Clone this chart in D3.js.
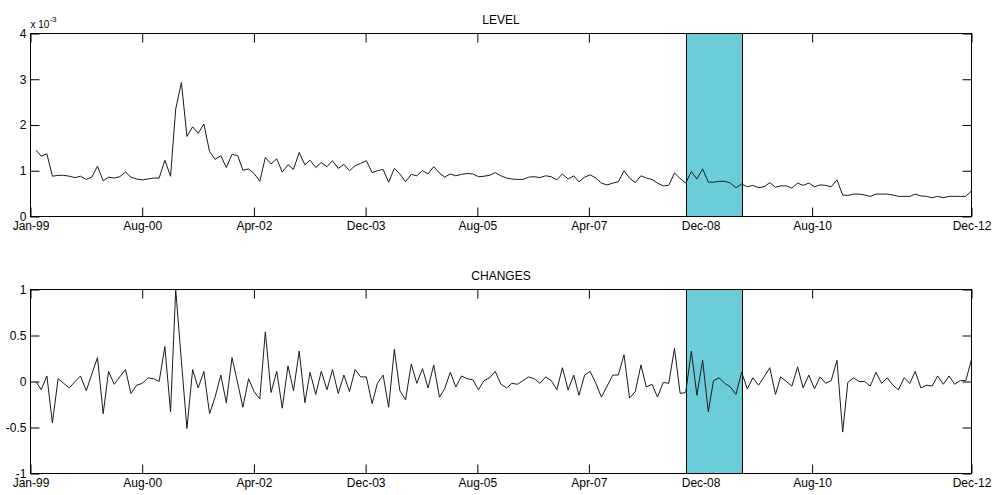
<!DOCTYPE html>
<html>
<head>
<meta charset="utf-8">
<script src="https://cdn.jsdelivr.net/npm/d3@7"></script>
<style>
  body { margin: 0; background: #fff; }
  text { font-family: Arial, "Liberation Sans", sans-serif; fill: #000; }
</style>
</head>
<body>
<svg id="chart" width="995" height="495"></svg>
<script>
// monthly series, Jan-99 .. Dec-12, plotted at month end
const firstMonth = new Date(1999, 0, 1);

// LEVEL, in units of 1e-3
const levelValues = [
  1.45, 1.32, 1.37, 0.88, 0.90, 0.90, 0.88, 0.85, 0.88, 0.81, 0.86, 1.10,
  0.78, 0.86, 0.84, 0.87, 0.97, 0.86, 0.82, 0.80, 0.82, 0.84, 0.84, 1.23,
  0.88, 2.35, 2.93, 1.75, 1.96, 1.82, 2.02, 1.42, 1.25, 1.33, 1.07, 1.36,
  1.33, 1.01, 1.04, 0.94, 0.77, 1.29, 1.15, 1.26, 0.97, 1.13, 1.03, 1.40,
  1.13, 1.23, 1.07, 1.18, 1.09, 1.22, 1.05, 1.14, 1.00, 1.11, 1.16, 1.22,
  0.96, 1.00, 1.03, 0.75, 1.05, 0.93, 0.76, 0.92, 0.89, 1.00, 0.93, 1.09,
  0.95, 0.86, 0.93, 0.89, 0.92, 0.94, 0.93, 0.87, 0.88, 0.90, 0.96, 0.89,
  0.84, 0.82, 0.81, 0.81, 0.86, 0.87, 0.85, 0.89, 0.87, 0.80, 0.93, 0.82,
  0.89, 0.76, 0.86, 0.91, 0.84, 0.73, 0.69, 0.73, 0.76, 1.00, 0.84, 0.74,
  0.89, 0.84, 0.81, 0.73, 0.67, 0.68, 0.95, 0.83, 0.73, 0.98, 0.82, 1.04,
  0.75, 0.75, 0.77, 0.77, 0.73, 0.63, 0.71, 0.65, 0.68, 0.63, 0.65, 0.74,
  0.64, 0.67, 0.67, 0.62, 0.73, 0.68, 0.73, 0.65, 0.69, 0.68, 0.65, 0.80,
  0.47, 0.46, 0.49, 0.49, 0.47, 0.44, 0.49, 0.49, 0.49, 0.47, 0.44, 0.44,
  0.44, 0.49, 0.45, 0.44, 0.41, 0.44, 0.41, 0.44, 0.44, 0.44, 0.44, 0.56
];

// CHANGES
const changeValues = [
  0.00, -0.09, 0.06, -0.45, 0.03, -0.02, -0.07, 0.00, 0.06, -0.10, 0.08, 0.26,
  -0.35, 0.11, -0.03, 0.05, 0.13, -0.13, -0.04, -0.02, 0.04, 0.03, 0.00, 0.38,
  -0.33, 1.00, 0.22, -0.51, 0.13, -0.07, 0.11, -0.35, -0.17, 0.07, -0.23, 0.26,
  -0.02, -0.28, 0.03, -0.11, -0.19, 0.54, -0.12, 0.11, -0.29, 0.17, -0.10, 0.33,
  -0.23, 0.10, -0.14, 0.11, -0.09, 0.13, -0.13, 0.07, -0.11, 0.13, 0.05, 0.05,
  -0.24, -0.02, 0.07, -0.28, 0.35, -0.10, -0.20, 0.19, -0.02, 0.14, -0.07, 0.18,
  -0.17, -0.08, 0.10, -0.06, 0.06, 0.03, 0.02, -0.09, 0.01, 0.04, 0.11, -0.03,
  -0.07, -0.02, -0.03, 0.01, 0.05, 0.03, -0.02, 0.05, 0.01, -0.09, 0.15, -0.09,
  0.07, -0.15, 0.07, 0.11, -0.02, -0.17, -0.05, 0.07, 0.07, 0.29, -0.18, -0.11,
  0.18, -0.06, -0.03, -0.17, -0.01, -0.02, 0.36, -0.13, -0.12, 0.33, -0.15, 0.23,
  -0.33, 0.01, 0.04, -0.02, -0.06, -0.14, 0.10, -0.08, 0.04, -0.04, 0.05, 0.15,
  -0.14, 0.05, 0.00, -0.05, 0.16, -0.07, 0.07, -0.08, 0.05, -0.02, 0.01, 0.23,
  -0.55, -0.01, 0.04, 0.00, 0.00, -0.05, 0.10, -0.02, 0.04, -0.04, -0.09, 0.04,
  -0.02, 0.11, -0.07, -0.04, -0.05, 0.06, -0.03, 0.06, -0.03, 0.01, 0.01, 0.24
];

const xDomain = ['1999-01-01', '2012-12-31'];
const xTickDates = ['1999-01-01', '2000-08-30', '2002-04-29', '2003-12-27',
  '2005-08-25', '2007-04-23', '2008-12-20', '2010-08-18', '2012-12-31'];
const xTickLabels = ['Jan-99', 'Aug-00', 'Apr-02', 'Dec-03', 'Aug-05',
  'Apr-07', 'Dec-08', 'Aug-10', 'Dec-12'];
const shadeDates = ['2008-09-30', '2009-07-31'];

const levelTicks = [0, 1, 2, 3, 4];
const levelTickLabels = ['0', '1', '2', '3', '4'];
const changeTicks = [-1, -0.5, 0, 0.5, 1];
const changeTickLabels = ['-1', '-0.5', '0', '0.5', '1'];

const parse = d3.timeParse('%Y-%m-%d');
const monthEnd = (i) => d3.timeDay.offset(d3.timeMonth.offset(firstMonth, i + 1), -1);

const svg = d3.select('#chart');
const left = 30.5, right = 971.5;

const x = d3.scaleTime()
  .domain(xDomain.map(parse))
  .range([left, right]);

const panels = [
  { title: 'LEVEL', values: levelValues, top: 33.5, bottom: 216.5,
    domain: [0, 4], ticks: levelTicks, labels: levelTickLabels, exponent: true },
  { title: 'CHANGES', values: changeValues, top: 289.5, bottom: 473.5,
    domain: [-1, 1], ticks: changeTicks, labels: changeTickLabels, exponent: false },
];

panels.forEach((p) => {
  const y = d3.scaleLinear().domain(p.domain).range([p.bottom, p.top]);
  const g = svg.append('g');
  const tickVals = xTickDates.map(parse);

  const xb = g.append('g')
    .attr('transform', `translate(0,${p.bottom})`)
    .call(d3.axisBottom(x).tickValues(tickVals).tickSize(-9).tickPadding(5)
      .tickFormat((d, i) => xTickLabels[i]));
  g.append('g')
    .attr('transform', `translate(0,${p.top})`)
    .call(d3.axisTop(x).tickValues(tickVals).tickSize(-9).tickFormat(''));
  g.append('g')
    .attr('transform', `translate(${left},0)`)
    .call(d3.axisLeft(y).tickValues(p.ticks).tickSize(-9).tickPadding(4)
      .tickFormat((d, i) => p.labels[i]));
  g.append('g')
    .attr('transform', `translate(${right},0)`)
    .call(d3.axisRight(y).tickValues(p.ticks).tickSize(-9).tickFormat(''));

  g.selectAll('.domain').remove();
  g.selectAll('.tick line').attr('stroke', '#000');
  g.selectAll('.tick text')
    .attr('font-family', 'Arial, "Liberation Sans", sans-serif')
    .attr('font-size', 12)
    .attr('fill', '#000');
  xb.selectAll('.tick text').attr('dy', '0.72em');

  // shaded period, covering the ticks like the original
  const s0 = Math.round(x(parse(shadeDates[0]))) + 0.5;
  const s1 = Math.round(x(parse(shadeDates[1]))) + 0.5;
  g.append('rect')
    .attr('x', s0)
    .attr('y', p.top)
    .attr('width', s1 - s0)
    .attr('height', p.bottom - p.top)
    .attr('fill', '#6ccdda')
    .attr('stroke', '#000')
    .attr('stroke-width', 1);

  const line = d3.line()
    .x((d, i) => x(monthEnd(i)))
    .y((d) => y(d));

  g.append('path')
    .datum(p.values)
    .attr('d', line)
    .attr('fill', 'none')
    .attr('stroke', '#1a1a1a')
    .attr('stroke-width', 1);

  // frame
  g.append('rect')
    .attr('x', left).attr('y', p.top)
    .attr('width', right - left).attr('height', p.bottom - p.top)
    .attr('fill', 'none')
    .attr('stroke', '#000');

  g.append('text')
    .attr('x', (left + right) / 2)
    .attr('y', p.top - 10)
    .attr('text-anchor', 'middle')
    .attr('font-size', 12)
    .text(p.title);

  if (p.exponent) {
    const t = g.append('text')
      .attr('x', left)
      .attr('y', p.top - 6)
      .attr('font-size', 10);
    t.append('tspan').text('x 10');
    t.append('tspan').attr('dy', -6).attr('font-size', 8).text('-3');
  }
});
</script>
</body>
</html>
